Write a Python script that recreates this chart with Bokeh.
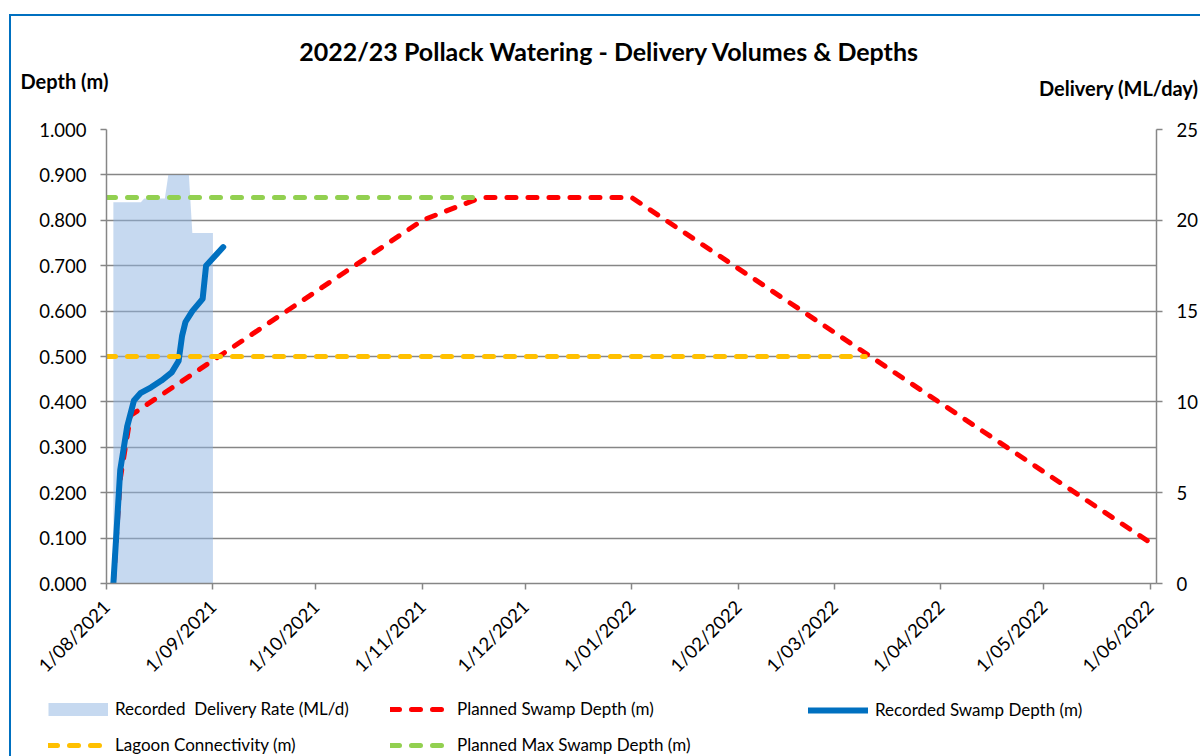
import math
from datetime import datetime
import pandas as pd
from bokeh.plotting import figure
from bokeh.layouts import column
from bokeh.models import (Range1d, LinearAxis, FixedTicker, NumeralTickFormatter,
                          Legend, LegendItem, Label, ColumnDataSource)
from bokeh.embed import file_html
from bokeh.resources import INLINE

# ---------------- data ----------------
delivery_dates = ["2021-08-03", "2021-08-11", "2021-08-12", "2021-08-18",
                  "2021-08-19", "2021-08-25", "2021-08-26", "2021-09-01"]
delivery_rate = [21.0, 21.0, 21.2, 21.2, 22.5, 22.5, 19.3, 19.3]

recorded_dates = ["2021-08-03", "2021-08-05", "2021-08-07", "2021-08-09", "2021-08-11",
                  "2021-08-14", "2021-08-17", "2021-08-20", "2021-08-22", "2021-08-23",
                  "2021-08-24", "2021-08-26", "2021-08-29", "2021-08-30", "2021-09-04"]
recorded_depth = [0.000, 0.250, 0.345, 0.403, 0.420, 0.432, 0.447, 0.465, 0.490, 0.545,
                  0.576, 0.600, 0.627, 0.700, 0.741]

planned_dates = ["2021-08-03", "2021-08-05", "2021-08-08", "2021-11-01",
                 "2021-11-18", "2022-01-01", "2022-06-01"]
planned_depth = [0.00, 0.23, 0.37, 0.80, 0.85, 0.85, 0.09]

lagoon_dates = ["2021-08-01", "2022-03-10"]
lagoon_depth = [0.5, 0.5]

max_dates = ["2021-08-01", "2021-11-18"]
max_depth = [0.85, 0.85]

tick_dates = ["2021-08-01", "2021-09-01", "2021-10-01", "2021-11-01", "2021-12-01",
              "2022-01-01", "2022-02-01", "2022-03-01", "2022-04-01", "2022-05-01",
              "2022-06-01"]
tick_labels = ["1/08/2021", "1/09/2021", "1/10/2021", "1/11/2021", "1/12/2021",
               "1/01/2022", "1/02/2022", "1/03/2022", "1/04/2022", "1/05/2022",
               "1/06/2022"]
depth_ticks = [0.0, 0.1, 0.2, 0.3, 0.4, 0.5, 0.6, 0.7, 0.8, 0.9, 1.0]
delivery_ticks = [0, 5, 10, 15, 20, 25]

title_text = "2022/23 Pollack Watering -  Delivery Volumes & Depths"
left_title = "Depth (m)"
right_title = "Delivery (ML/day)"
legend_labels = ["Recorded  Delivery Rate (ML/d)", "Planned Swamp Depth (m)",
                 "Recorded Swamp Depth (m)", "Lagoon Connectivity (m)",
                 "Planned Max Swamp Depth (m)"]

# ---------------- styles ----------------
FONT = "Lato"
GRAY = "#868686"
W = 1200
AREA = "#8DB3E2"
AREA_SOLID = "#C6D9F0"
RED, BLUE, YELLOW, GREEN = "#FF0000", "#0070C0", "#FFC000", "#92D050"
dash_kw = dict(line_width=5, line_dash="9 12", line_cap="round", line_join="round")
solid_kw = dict(line_width=6, line_cap="round", line_join="round")


def blank_fig(h):
    f = figure(width=W, height=h, output_backend="svg", toolbar_location=None,
               x_range=Range1d(0, 1), y_range=Range1d(0, 1),
               x_axis_location=None, y_axis_location=None, min_border=0,
               frame_align=False)
    f.grid.visible = False
    f.outline_line_color = None
    f.background_fill_color = None
    f.border_fill_color = None
    return f

# ---------------- header ----------------
header = blank_fig(110)
header.add_layout(Label(x=612, y=60, x_units="screen", y_units="screen", text=title_text,
                        text_align="center", text_baseline="middle", text_font=FONT,
                        text_font_style="bold", text_font_size="25px", text_color="#000000"))
header.add_layout(Label(x=20, y=30, x_units="screen", y_units="screen", text=left_title,
                        text_align="left", text_baseline="middle", text_font=FONT,
                        text_font_style="bold", text_font_size="20px", text_color="#000000"))
header.add_layout(Label(x=1198, y=23, x_units="screen", y_units="screen", text=right_title,
                        text_align="right", text_baseline="middle", text_font=FONT,
                        text_font_style="bold", text_font_size="20px", text_color="#000000"))

# ---------------- main chart ----------------
p = figure(width=W, height=580, output_backend="svg", toolbar_location=None,
           x_axis_type="datetime",
           x_range=Range1d(datetime(2021, 8, 1), datetime(2022, 6, 2, 20)),
           y_range=Range1d(0, 1.0),
           min_border_left=106, min_border_right=42, min_border_top=19,
           min_border_bottom=107, frame_align=False)
p.extra_y_ranges = {"delivery": Range1d(0, 25)}
p.outline_line_color = None
p.background_fill_color = "white"
p.border_fill_color = None


def ms(dates):
    return [float(v) for v in (pd.to_datetime(dates).astype("int64") // 10**6)]


xa = p.xaxis[0]
xa.ticker = FixedTicker(ticks=ms(tick_dates))
xa.major_label_overrides = dict(zip(ms(tick_dates), tick_labels))
xa.major_label_orientation = math.pi / 4
ya = p.yaxis[0]
ya.ticker = FixedTicker(ticks=depth_ticks)
ya.formatter = NumeralTickFormatter(format="0.000")
ra = LinearAxis(y_range_name="delivery", ticker=FixedTicker(ticks=delivery_ticks),
                formatter=NumeralTickFormatter(format="0"))
p.add_layout(ra, "right")

for ax in (xa, ya, ra):
    ax.axis_line_color = GRAY
    ax.axis_line_width = 1.5
    ax.major_tick_line_color = GRAY
    ax.major_tick_line_width = 1.5
    ax.major_tick_in = 0
    ax.major_tick_out = 6
    ax.minor_tick_line_color = None
    ax.major_label_text_font = FONT
    ax.major_label_text_font_size = "18.5px"
    ax.major_label_text_color = "#000000"
ya.major_label_standoff = 14
ra.major_label_standoff = 14
xa.major_label_standoff = 14

p.xgrid.grid_line_color = None
p.ygrid.ticker = FixedTicker(ticks=depth_ticks)
p.ygrid.grid_line_color = GRAY
p.ygrid.grid_line_width = 1.5

src_del = ColumnDataSource(dict(x=pd.to_datetime(delivery_dates), y=delivery_rate,
                                z=[0] * len(delivery_rate)))
p.varea(x="x", y1="z", y2="y", source=src_del, y_range_name="delivery",
        fill_color=AREA, fill_alpha=0.5)
p.line(pd.to_datetime(planned_dates), planned_depth, line_color=RED, **dash_kw)
p.line(pd.to_datetime(recorded_dates), recorded_depth, line_color=BLUE, **solid_kw)
p.line(pd.to_datetime(lagoon_dates), lagoon_depth, line_color=YELLOW, **dash_kw)
p.line(pd.to_datetime(max_dates), max_depth, line_color=GREEN, **dash_kw)

# ---------------- legend strip ----------------
lf = blank_fig(66)
nan = [float("nan")]
g_del = lf.line(nan, nan, line_color=AREA_SOLID, line_width=13, line_cap="butt")
g_plan = lf.line(nan, nan, line_color=RED, **dash_kw)
g_rec = lf.line(nan, nan, line_color=BLUE, **solid_kw)
g_lag = lf.line(nan, nan, line_color=YELLOW, **dash_kw)
g_max = lf.line(nan, nan, line_color=GREEN, **dash_kw)


def make_legend(items, loc):
    lg = Legend(items=items, location=loc, orientation="vertical",
                glyph_width=60, glyph_height=20, label_height=20, label_standoff=7,
                spacing=15, padding=0, margin=0, border_line_color=None,
                background_fill_alpha=0, label_text_font=FONT,
                label_text_font_size="17px", label_text_color="#000000")
    lf.add_layout(lg, "center")


make_legend([LegendItem(label=legend_labels[0], renderers=[g_del]),
             LegendItem(label=legend_labels[3], renderers=[g_lag])], (48, 1))
make_legend([LegendItem(label=legend_labels[1], renderers=[g_plan]),
             LegendItem(label=legend_labels[4], renderers=[g_max])], (390, 1))
make_legend([LegendItem(label=legend_labels[2], renderers=[g_rec])], (808, 36))

# ---------------- page with chart border ----------------
layout = column(header, p, lf, spacing=0, styles={
    "background-image": f"linear-gradient({BLUE}, {BLUE}), linear-gradient({BLUE}, {BLUE})",
    "background-size": "2px 100%, 100% 2px",
    "background-position": "9px 14px, 9px 14px",
    "background-repeat": "no-repeat",
})

open("out.html", "w").write(file_html(layout, INLINE))
